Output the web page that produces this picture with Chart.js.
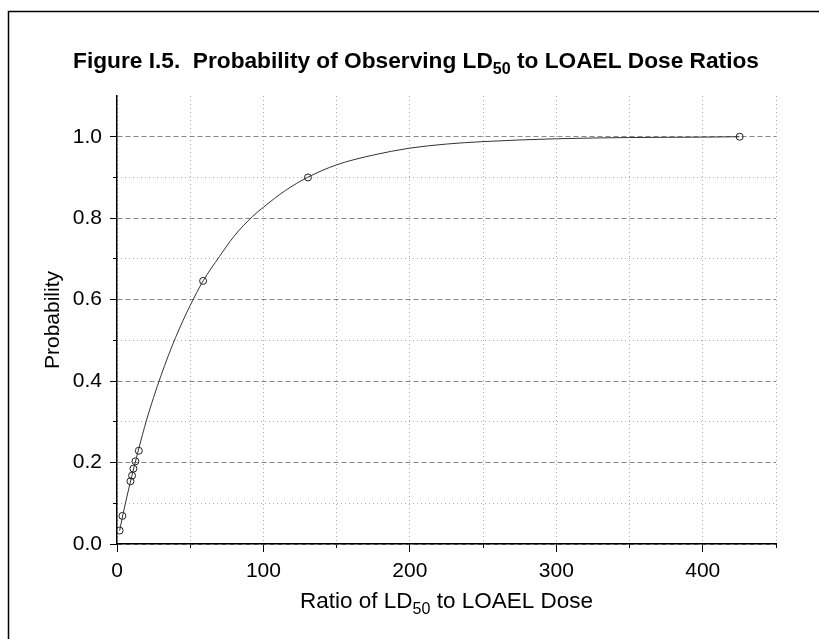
<!DOCTYPE html>
<html>
<head>
<meta charset="utf-8">
<script src="https://cdn.jsdelivr.net/npm/chart.js@4.4.1/dist/chart.umd.min.js"></script>
<style>
  html, body { margin: 0; padding: 0; background: #fff; }
  canvas { display: block; }
</style>
</head>
<body>
<canvas id="ratioChart" width="819" height="639"></canvas>
<script>
// observed ratios (LD50 / LOAEL) and their probabilities
const ratioPoints = [1.8, 3.7, 9.2, 10.3, 11.2, 12.6, 14.9, 58.8, 130.4, 425.2];
const probPoints = [0.033, 0.069, 0.154, 0.168, 0.185, 0.203, 0.229, 0.646, 0.900, 1.0];

// fitted curve
const curveX = [1.8, 5, 10, 15, 20, 25, 30, 35, 40, 45, 50, 58.8, 70, 80, 92.5, 100, 115, 130, 150, 175, 200, 225, 250, 300, 350, 400, 425];
const curveY = [0.033, 0.088, 0.165, 0.236, 0.302, 0.36, 0.413, 0.462, 0.507, 0.548, 0.586, 0.646, 0.706, 0.756, 0.804, 0.827, 0.868, 0.90, 0.931, 0.955, 0.972, 0.982, 0.988, 0.995, 0.998, 0.999, 1.0];

const xTickLabels = [0, 100, 200, 300, 400];
const yTickLabels = [0.0, 0.2, 0.4, 0.6, 0.8, 1.0];

const titleParts = [["Figure I.5.  Probability of Observing LD", false], ["50", true], [" to LOAEL Dose Ratios", false]];
const xTitleParts = [["Ratio of LD", false], ["50", true], [" to LOAEL Dose", false]];
const yTitle = "Probability";

const FONT = '"Liberation Sans", Arial, sans-serif';

// draw a line of text with subscript pieces, centred on cx
function drawSubText(ctx, parts, cx, baseline, size, weight) {
  const main = weight + " " + size + "px " + FONT;
  const sub = weight + " " + Math.round(size * 0.7) + "px " + FONT;
  let total = 0;
  parts.forEach(([txt, isSub]) => {
    ctx.font = isSub ? sub : main;
    total += ctx.measureText(txt).width;
  });
  let x = cx - total / 2;
  ctx.textAlign = "left";
  ctx.textBaseline = "alphabetic";
  ctx.fillStyle = "#000";
  parts.forEach(([txt, isSub]) => {
    ctx.font = isSub ? sub : main;
    ctx.fillText(txt, x, isSub ? baseline + size * 0.28 : baseline);
    x += ctx.measureText(txt).width;
  });
}

const framePlugin = {
  id: "frame",
  beforeDraw(chart) {
    const ctx = chart.ctx;
    ctx.save();
    ctx.fillStyle = "#fff";
    ctx.fillRect(0, 0, chart.width, chart.height);
    ctx.strokeStyle = "#000";
    ctx.lineWidth = 1.5;
    ctx.beginPath();
    ctx.moveTo(8.5, chart.height);
    ctx.lineTo(8.5, 11.5);
    ctx.lineTo(chart.width, 11.5);
    ctx.stroke();
    ctx.restore();
  },
  afterDraw(chart) {
    const ctx = chart.ctx;
    const area = chart.chartArea;
    ctx.save();
    drawSubText(ctx, titleParts, 416, 68, 22.7, "bold");
    drawSubText(ctx, xTitleParts, (area.left + area.right) / 2, 608, 22.5, "normal");
    ctx.restore();
  }
};

const isMajorY = v => Math.round(v * 10) % 2 === 0;
const upToOne = s => { s.ticks = s.ticks.filter(t => t.value <= 1.0001); };

new Chart(document.getElementById("ratioChart"), {
  type: "scatter",
  data: {
    datasets: [
      {
        label: "fit",
        data: curveX.map((x, i) => ({ x: x, y: curveY[i] })),
        showLine: true,
        cubicInterpolationMode: "monotone",
        borderColor: "#333",
        borderWidth: 1,
        pointRadius: 0
      },
      {
        label: "observed",
        data: ratioPoints.map((x, i) => ({ x: x, y: probPoints[i] })),
        showLine: false,
        pointStyle: "circle",
        pointRadius: 3.5,
        pointBorderWidth: 1,
        pointBorderColor: "#222",
        pointBackgroundColor: "rgba(0,0,0,0)"
      }
    ]
  },
  options: {
    responsive: false,
    animation: false,
    layout: { padding: { left: 0, right: 43, top: 96, bottom: 0 } },
    plugins: {
      legend: { display: false },
      tooltip: { enabled: false }
    },
    scales: {
      x: {
        type: "linear",
        position: "bottom",
        min: 0,
        max: 450,
        afterFit: s => { s.height = 95; },
        ticks: {
          stepSize: 50,
          autoSkip: false,
          maxRotation: 0,
          padding: 7,
          color: "#000",
          font: { family: FONT, size: 21 },
          callback: v => xTickLabels.includes(v) ? String(v) : ""
        },
        grid: {
          color: "#aaa",
          lineWidth: 1,
          tickLength: 8,
          tickColor: c => c.tick && c.tick.value % 100 === 0 ? "#000" : "rgba(0,0,0,0)"
        },
        border: { color: "#000", width: 1.5, dash: [1, 3] }
      },
      x2: {
        type: "linear",
        axis: "x",
        position: { y: 0 },
        min: 0,
        max: 450,
        ticks: { stepSize: 50, display: false },
        grid: {
          drawOnChartArea: false,
          tickLength: 4,
          tickColor: c => c.tick && c.tick.value % 100 === 0 ? "rgba(0,0,0,0)" : "#000"
        },
        border: { display: false }
      },
      y: {
        type: "linear",
        position: "left",
        min: 0,
        max: 1.1,
        afterFit: s => { s.width = 117; },
        afterBuildTicks: upToOne,
        ticks: {
          stepSize: 0.2,
          includeBounds: false,
          padding: 8,
          color: "#000",
          font: { family: FONT, size: 21 },
          callback: v => yTickLabels.some(t => Math.abs(t - v) < 1e-6) ? v.toFixed(1) : ""
        },
        grid: {
          color: "#888",
          lineWidth: 1,
          tickLength: 7,
          tickColor: "#000"
        },
        border: { color: "#000", width: 1.5, dash: [5, 3] },
        title: {
          display: true,
          text: yTitle,
          color: "#000",
          font: { family: FONT, size: 21 },
          padding: { top: 41, bottom: 0 }
        }
      },
      y2: {
        type: "linear",
        axis: "y",
        position: { x: 0 },
        min: 0,
        max: 1.1,
        afterBuildTicks: upToOne,
        ticks: { stepSize: 0.1, includeBounds: false, display: false },
        grid: {
          color: c => c.tick && isMajorY(c.tick.value) ? "rgba(0,0,0,0)" : "#aaa",
          tickLength: 4,
          tickColor: c => c.tick && isMajorY(c.tick.value) ? "rgba(0,0,0,0)" : "#000"
        },
        border: { display: false, dash: [1, 3] }
      }
    }
  },
  plugins: [framePlugin]
});
</script>
</body>
</html>
